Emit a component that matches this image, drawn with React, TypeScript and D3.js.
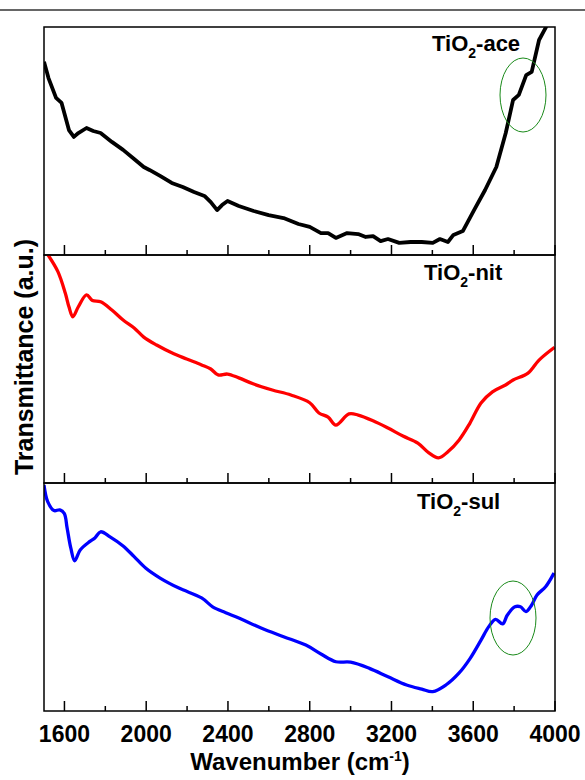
import * as React from "react";
import * as d3 from "d3";

// wavenumber (cm-1) / transmittance (a.u., 0-100 per panel)
const aceWave = [1500, 1522, 1559, 1586, 1622, 1646, 1668, 1708, 1741, 1777, 1832, 1887, 1941, 1988, 2016, 2070, 2125, 2179, 2234, 2285, 2316, 2347, 2371, 2398, 2453, 2526, 2599, 2672, 2745, 2800, 2855, 2890, 2928, 2983, 3037, 3074, 3110, 3147, 3183, 3238, 3293, 3348, 3402, 3437, 3476, 3503, 3549, 3604, 3658, 3713, 3759, 3795, 3823, 3859, 3886, 3922, 3954, 3985];
const aceT = [84.8, 77.6, 68.9, 66.7, 54.8, 51.8, 53.5, 55.7, 54.4, 53.5, 49.6, 46.1, 42.1, 38.6, 37.3, 34.6, 31.6, 29.8, 27.6, 25.9, 23.2, 19.7, 21.9, 23.7, 21.5, 19.3, 17.5, 16.2, 13.6, 12.3, 9.6, 9.6, 7.5, 9.6, 9.2, 7.9, 8.3, 6.1, 7.0, 5.3, 5.7, 5.7, 5.3, 7.0, 5.7, 8.8, 10.5, 19.7, 28.5, 38.6, 53.5, 68.0, 70.2, 78.9, 80.3, 94.3, 99.6, 106];

const nitWave = [1520, 1568, 1604, 1622, 1641, 1668, 1708, 1737, 1777, 1832, 1887, 1941, 1988, 2051, 2125, 2198, 2271, 2316, 2352, 2398, 2453, 2526, 2617, 2708, 2800, 2845, 2890, 2928, 2992, 3037, 3110, 3183, 3256, 3329, 3383, 3430, 3476, 3531, 3584, 3638, 3694, 3758, 3795, 3868, 3922, 3998];
const nitT = [100, 92.7, 83.3, 77.3, 72.9, 77.3, 82.5, 80.0, 79.5, 75.9, 71.5, 68.0, 64.0, 60.5, 57.1, 54.4, 51.8, 50.0, 47.4, 47.8, 46.1, 43.4, 40.8, 38.6, 35.2, 30.7, 28.9, 25.4, 30.3, 29.8, 27.3, 24.1, 20.6, 17.5, 13.2, 11.0, 13.7, 18.9, 26.3, 35.1, 40.0, 43.0, 45.2, 48.2, 53.9, 59.5];

const sulWave = [1500, 1518, 1549, 1577, 1599, 1613, 1631, 1650, 1677, 1723, 1749, 1777, 1823, 1887, 1941, 1997, 2068, 2160, 2271, 2325, 2389, 2453, 2562, 2672, 2781, 2855, 2928, 3000, 3092, 3183, 3274, 3348, 3402, 3466, 3531, 3585, 3638, 3676, 3709, 3744, 3767, 3804, 3831, 3858, 3886, 3912, 3954, 3995];
const sulT = [99.1, 91.8, 87.9, 88.2, 86.7, 80.3, 71.5, 65.9, 70.6, 74.3, 75.9, 78.6, 76.4, 72.4, 67.7, 62.7, 58.3, 53.9, 49.6, 45.7, 43.1, 40.8, 36.4, 32.6, 28.9, 25.0, 21.6, 21.4, 18.7, 15.0, 11.4, 9.6, 8.5, 11.4, 16.7, 23.1, 31.1, 37.0, 40.2, 38.2, 42.1, 45.7, 45.7, 43.6, 46.5, 50.9, 54.5, 60.5];

const sampleNames = ["ace", "nit", "sul"];
const lineColors = ["#000000", "#ff0000", "#0000ff"];
const majorTicks = [1600, 2000, 2400, 2800, 3200, 3600, 4000];
const minorTicks = [1800, 2200, 2600, 3000, 3400, 3800];

const W = 585;
const H = 780;
const LEFT = 44;
const RIGHT = 555;
const TOP = 27;
const PANEL_H = 228;
const FONT = "'Liberation Sans', Arial, Helvetica, sans-serif";

const series = [
  { wave: aceWave, t: aceT },
  { wave: nitWave, t: nitT },
  { wave: sulWave, t: sulT },
];

// label position & ellipse per panel (relative to panel top)
const labelX = [432, 424, 417];
const labelY = [24, 25, 26];
const ellipses = [{ cx: 523, cy: 68, rx: 23, ry: 37 }, null, { cx: 513, cy: 135, rx: 23, ry: 37 }];

export default function App() {
  const x = d3.scaleLinear().domain([1500, 4000]).range([LEFT, RIGHT]);

  return (
    <svg width={W} height={H} style={{ position: "absolute", left: 0, top: 0, background: "#fff" }}>
      <defs>
        {series.map((_, i) => (
          <clipPath id={`clip${i}`} key={i}>
            <rect x={LEFT} y={TOP + i * PANEL_H} width={RIGHT - LEFT} height={PANEL_H} />
          </clipPath>
        ))}
      </defs>
      <line x1={0} x2={W} y1={10} y2={10} stroke="#333" strokeWidth={1.5} />

      {series.map((s, i) => {
        const top = TOP + i * PANEL_H;
        const y = d3.scaleLinear().domain([0, 100]).range([top + PANEL_H, top]);
        const pts = s.wave.map((w, k) => [w, s.t[k]] as [number, number]);
        const line = d3.line<[number, number]>()
          .x(d => x(d[0]))
          .y(d => y(d[1]))
          .curve(i === 0 ? d3.curveLinear : d3.curveCatmullRom.alpha(0.5));
        const e = ellipses[i];
        return (
          <g key={i}>
            <path d={line(pts) || ""} fill="none" stroke={lineColors[i]} strokeWidth={i === 0 ? 3.8 : 3.3}
              strokeLinejoin="round" clipPath={`url(#clip${i})`} />
            {majorTicks.map(t => (
              <line key={t} x1={x(t)} x2={x(t)} y1={top + PANEL_H} y2={top + PANEL_H - 10} stroke="#000" strokeWidth={1.5} />
            ))}
            {minorTicks.map(t => (
              <line key={t} x1={x(t)} x2={x(t)} y1={top + PANEL_H} y2={top + PANEL_H - 5} stroke="#000" strokeWidth={1.5} />
            ))}
            <rect x={LEFT} y={top} width={RIGHT - LEFT} height={PANEL_H} fill="none" stroke="#000" strokeWidth={1.5} />
            <text x={labelX[i]} y={top + labelY[i]} fontFamily={FONT} fontWeight="bold" fontSize={22} fill="#000">
              TiO<tspan fontSize={14} dy={7}>2</tspan><tspan dy={-7}>-{sampleNames[i]}</tspan>
            </text>
            {e && <ellipse cx={e.cx} cy={top + e.cy} rx={e.rx} ry={e.ry} fill="none" stroke="#1a8a1a" strokeWidth={1} />}
          </g>
        );
      })}

      {majorTicks.map(t => (
        <text key={t} x={x(t)} y={742} textAnchor="middle" fontFamily={FONT} fontWeight="bold" fontSize={23} fill="#000">
          {t}
        </text>
      ))}
      <text x={300} y={770} textAnchor="middle" fontFamily={FONT} fontWeight="bold" fontSize={24} fill="#000">
        Wavenumber (cm<tspan fontSize={14} dy={-9}>-1</tspan><tspan dy={9}>)</tspan>
      </text>
      <text transform="translate(33,357) rotate(-90)" textAnchor="middle" fontFamily={FONT} fontWeight="bold" fontSize={25} fill="#000">
        Transmittance (a.u.)
      </text>
    </svg>
  );
}
